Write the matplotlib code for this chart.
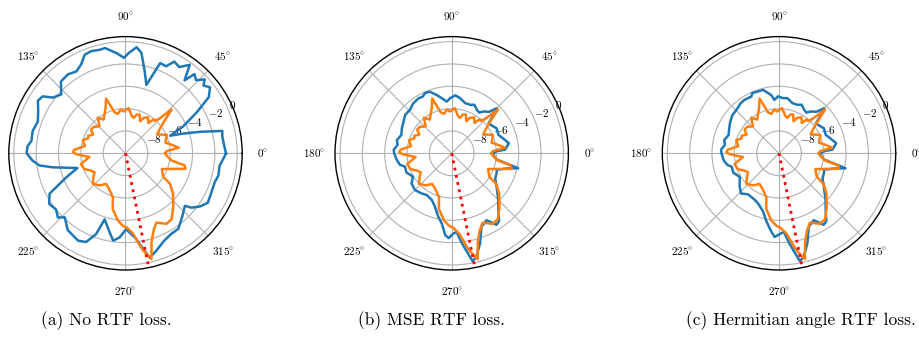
import numpy as np
import matplotlib
matplotlib.use("Agg")
import matplotlib.pyplot as plt

plt.rcParams['font.family'] = 'serif'
plt.rcParams['font.serif'] = ['cmr10']
plt.rcParams['mathtext.fontset'] = 'cm'
plt.rcParams['axes.unicode_minus'] = False

# --- data (angles in degrees, power in dB) ---
theta_blue_a = [0, 5, 10, 13, 16, 19, 21.5, 25, 30, 34, 38, 41, 43, 46, 49, 51, 54, 58, 62, 65,
                69, 73, 77, 81, 84, 88, 91, 95, 101, 104, 108.5, 112.5, 116.5, 121, 126, 132,
                137.5, 142.5, 145.5, 149, 154, 160, 166.5, 172.5, 176, 180, 184.5, 188, 191, 197,
                202, 208, 213.5, 219, 223.5, 226.5, 233, 241.5, 246, 250, 252.5, 258, 262, 266,
                270.5, 277, 280.5, 283, 287.5, 294, 299.5, 305, 312, 318.5, 320.5, 324.5, 329,
                335.5, 342, 346.5, 352.5, 356.5]
r_blue_a = [-1.0, -1.15, -1.2, -1.1, -3.0, -4.6, -5.7, -4.3, -2.6, -1.0, -0.4, -0.75, -0.3, -0.9,
            -0.6, -1.6, -0.2, -0.9, -0.7, -1.4, -1.35, -3.6, -2.4, -0.9, -0.45, -1.0, -1.45, -1.0,
            -0.4, -0.45, -0.35, -0.45, -1.1, -1.45, -1.25, -1.35, -2.2, -1.8, -1.0, -0.85, -1.3,
            -1.65, -1.45, -1.5, -1.2, -1.15, -1.65, -2.2, -3.4, -5.5, -4.3, -2.3, -1.8, -2.0,
            -1.65, -2.1, -1.4, -1.1, -1.3, -2.3, -3.8, -2.9, -2.1, -2.45, -3.2, -2.3, -1.3, -0.4,
            -0.85, -1.45, -1.7, -1.75, -2.4, -2.9, -2.35, -1.8, -1.4, -1.55, -1.6, -1.45, -1.5,
            -1.25]

theta_blue_b = [0, 2.5, 4, 10, 16, 21.5, 29, 34, 39, 42.5, 45, 48, 52.8, 56, 60, 65, 69, 75,
                81.5, 86.5, 91.5, 95.5, 100, 104.5, 109.5, 114, 117, 121, 127.5, 134, 140.5, 147,
                153, 160, 166.5, 171, 176.5, 180, 187, 192.5, 196, 203, 211, 217, 225, 233, 239,
                247, 252.5, 258, 262, 265.5, 268, 271, 273.5, 276.5, 279.5, 281, 283.5, 287.5,
                292, 297.5, 302, 305, 308, 315, 323.5, 330, 336, 340, 344.5, 347.3, 349.5, 352,
                356]
r_blue_b = [-6.3, -6.0, -5.2, -4.8, -5.2, -5.5, -5.4, -5.6, -5.75, -4.95, -4.3, -5.0, -5.3,
            -5.6, -5.5, -5.2, -5.35, -5.35, -5.0, -4.8, -5.05, -5.35, -5.0, -4.6, -4.15, -4.1,
            -4.3, -4.25, -4.35, -4.6, -4.6, -4.85, -5.0, -5.2, -4.95, -5.1, -4.8, -4.85, -5.05,
            -5.25, -5.65, -5.6, -5.95, -5.5, -5.35, -5.5, -5.65, -5.45, -5.0, -4.2, -3.65,
            -2.65, -2.4, -2.8, -2.95, -1.9, -0.8, -0.15, -0.5, -1.55, -2.9, -3.25, -2.45, -2.6,
            -3.2, -4.1, -5.0, -5.5, -5.6, -5.7, -4.9, -3.9, -5.0, -5.9, -6.2]

theta_blue_c = [0, 2.5, 4, 10, 16, 21.5, 29, 34, 39, 42.5, 45, 48, 52.8, 56, 60, 65, 69, 75,
                81.5, 85.8, 91, 95, 97.5, 104, 108.8, 114, 116, 122.8, 127.5, 134, 140.5, 147,
                153, 160, 166.5, 171, 176.5, 180, 187, 192.5, 196, 203, 211, 220, 226.7, 233,
                242.5, 248, 254.7, 259, 262, 264.4, 267, 271, 273.5, 276.5, 279.5, 281, 283.5,
                287.5, 292, 297.5, 302, 305, 308, 315, 323.5, 330, 336, 340, 344.5, 347.3, 349.5,
                352, 356]
r_blue_c = [-6.3, -6.0, -5.2, -4.8, -5.2, -5.5, -5.4, -5.6, -5.75, -4.95, -4.3, -5.0, -5.3,
            -5.6, -5.5, -5.2, -5.35, -5.35, -5.0, -5.05, -4.9, -5.2, -4.75, -4.15, -4.15, -4.1,
            -4.35, -4.3, -4.35, -4.55, -4.6, -4.8, -5.0, -5.2, -4.95, -5.1, -4.8, -4.85, -5.0,
            -5.25, -5.6, -5.55, -5.9, -5.4, -5.05, -5.4, -5.3, -5.1, -4.6, -3.9, -3.4, -2.95,
            -2.5, -2.8, -2.95, -1.9, -0.8, -0.15, -0.5, -1.55, -2.9, -3.25, -2.45, -2.6, -3.2,
            -4.1, -5.0, -5.5, -5.6, -5.7, -4.9, -3.9, -5.0, -5.9, -6.2]

theta_orange = [0, 3, 6, 10.5, 15, 24, 31, 36, 40, 43.5, 45.5, 48, 50.5, 53, 58, 63, 65.5, 70,
                74, 77, 80.5, 86, 92.5, 96, 101, 105, 109.5, 114, 118.5, 123, 128, 134, 140,
                145.5, 150, 155, 158, 163, 170, 176, 179, 181, 186, 193.5, 201, 206, 211.5, 217,
                223, 231, 237.5, 245, 254, 257, 263.5, 268, 271, 275.5, 278, 280.3, 283.8, 286.3,
                290, 294, 298, 300, 305, 311.5, 319.5, 325.5, 328, 331, 336.5, 340, 345.5, 348.5,
                351, 356.5]
r_orange = [-6.45, -6.3, -5.2, -5.8, -6.3, -5.95, -6.7, -6.15, -5.4, -4.3, -5.6, -6.1, -6.05,
            -6.6, -6.2, -6.45, -6.85, -6.3, -6.4, -6.75, -6.6, -5.95, -6.25, -6.05, -6.4, -6.2,
            -4.8, -5.6, -6.05, -6.4, -5.95, -6.65, -6.3, -6.25, -6.65, -6.3, -6.4, -6.0, -6.3,
            -5.4, -5.3, -5.6, -6.75, -5.9, -6.05, -6.5, -6.75, -6.4, -6.0, -6.3, -6.75, -6.5,
            -5.9, -4.9, -3.95, -3.5, -3.35, -2.75, -1.95, -1.15, -0.25, -1.7, -2.65, -3.2, -2.9,
            -2.7, -2.8, -3.55, -4.4, -5.15, -6.0, -6.2, -6.45, -5.9, -4.45, -4.6, -5.8, -6.3]

doa_true = 281.5          # true direction (deg)
r_limits = (-10, 0.45)
r_ticks = [-8, -6, -4, -2, 0]
theta_ticks = [0, 45, 90, 135, 180, 225, 270, 315]
captions = ["(a) No RTF loss.", "(b) MSE RTF loss.", "(c) Hermitian angle RTF loss."]
blues = [(theta_blue_a, r_blue_a), (theta_blue_b, r_blue_b), (theta_blue_c, r_blue_c)]


def closed(theta, r):
    t = np.deg2rad(np.append(theta, theta[0] + 360))
    return t, np.append(r, r[0])


fig = plt.figure(figsize=(9.2, 3.43), dpi=100)
centers_x = [125.5, 451.7, 779.0]
caption_x = [106, 432, 801]
rad = 116.7
W, H = 920, 343

for i in range(3):
    cx = centers_x[i]
    ax = fig.add_axes([(cx - rad) / W, (H - 153.3 - rad) / H, 2 * rad / W, 2 * rad / H],
                      projection='polar')
    tb, rb = closed(*blues[i])
    to, ro = closed(theta_orange, r_orange)
    ax.plot(tb, rb, color='#1f77b4', lw=1.8)
    ax.plot(to, ro, color='#ff7f0e', lw=1.8)
    ax.plot([np.deg2rad(doa_true)] * 2, [r_limits[0], r_limits[1] - 0.15], color='red',
            ls=':', lw=2)
    ax.set_ylim(*r_limits)
    ax.set_yticks(r_ticks)
    ax.set_yticklabels([rf'$-{abs(v)}$' if v < 0 else rf'${v}$' for v in r_ticks], fontsize=8)
    ax.set_xticks(np.deg2rad(theta_ticks))
    ax.set_xticklabels([rf'${t}\!^\circ$' for t in theta_ticks], fontsize=8)
    ax.tick_params(axis='x', pad=4.5)
    ax.grid(True, color='#b0b0b0', lw=0.8)
    ax.spines['polar'].set_linewidth(1.0)
    fig.text(caption_x[i] / W, 22 / H, captions[i], ha='center', va='center', fontsize=12.5)

fig.savefig('out.png', dpi=100)
